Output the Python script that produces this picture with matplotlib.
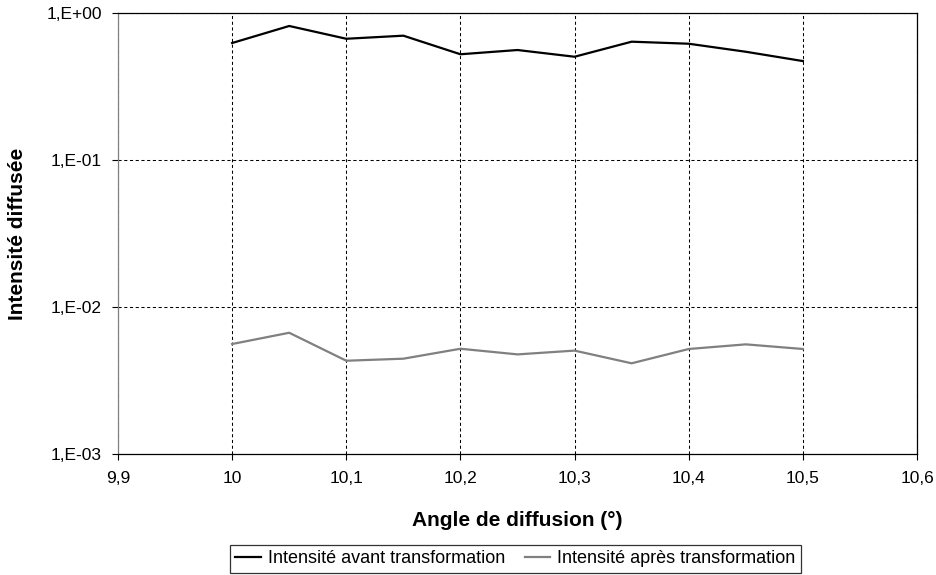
import math
import matplotlib
matplotlib.use('Agg')
import matplotlib.pyplot as plt
import matplotlib.ticker as mt

# data
angles = [10.0, 10.05, 10.1, 10.15, 10.2, 10.25, 10.3, 10.35, 10.4, 10.45, 10.5]
avant = [0.625, 0.816, 0.668, 0.701, 0.524, 0.560, 0.504, 0.638, 0.618, 0.545, 0.471]
apres = [0.0056, 0.00668, 0.00431, 0.00445, 0.0052, 0.00476, 0.00505, 0.00414, 0.00518, 0.00557, 0.00518]
xticks = [9.9, 10.0, 10.1, 10.2, 10.3, 10.4, 10.5, 10.6]
yticks = [1e-3, 1e-2, 1e-1, 1e0]

plt.rcParams['font.family'] = ['Liberation Sans', 'DejaVu Sans']
W, H = 937.0, 575.0


def xfmt(v, pos):
    s = ('%.1f' % v).rstrip('0').rstrip('.')
    return s.replace('.', ',')


def yfmt(v, pos):
    e = int(round(math.log10(v)))
    return '1,E%s%02d' % ('+' if e >= 0 else '-', abs(e))


def main():
    fig = plt.figure(figsize=(W / 100, H / 100), dpi=100)
    ax = fig.add_axes([118 / W, 1 - 454 / H, (917 - 118) / W, (454 - 13) / H])
    ax.plot(angles, avant, color='black', lw=1.6, label='Intensité avant transformation')
    ax.plot(angles, apres, color='#808080', lw=1.6, label='Intensité après transformation')
    ax.set_yscale('log')
    ax.set_xlim(9.9, 10.6)
    ax.set_ylim(1e-3, 1)
    ax.set_xticks(xticks)
    ax.set_yticks(yticks)
    ax.yaxis.set_minor_locator(mt.NullLocator())
    ax.xaxis.set_major_formatter(mt.FuncFormatter(xfmt))
    ax.yaxis.set_major_formatter(mt.FuncFormatter(yfmt))
    ax.grid(True, color='black', linestyle=(0, (3, 2.5)), lw=0.75)
    ax.tick_params(labelsize=12.5, length=4.5, width=0.8, direction='out')
    ax.tick_params(axis='x', pad=8)
    ax.tick_params(axis='y', pad=7)
    for s in ax.spines.values():
        s.set_linewidth(0.9)
    ax.spines['left'].set_color('#808080')
    ax.set_xlabel('Angle de diffusion (°)', fontsize=15, fontweight='bold', labelpad=18)
    ax.set_ylabel('Intensité diffusée', fontsize=15, fontweight='bold', labelpad=14)
    leg = ax.legend(loc='upper center', bbox_to_anchor=(515.5 / W, 1 - 545 / H),
                    bbox_transform=fig.transFigure, ncol=2, fontsize=13,
                    frameon=True, fancybox=False, edgecolor='black', handlelength=1.4,
                    handletextpad=0.4, columnspacing=1.1, borderpad=0.3, borderaxespad=0)
    leg.get_frame().set_linewidth(0.9)
    plt.savefig('out.png', dpi=100)


if __name__ == '__main__':
    main()
